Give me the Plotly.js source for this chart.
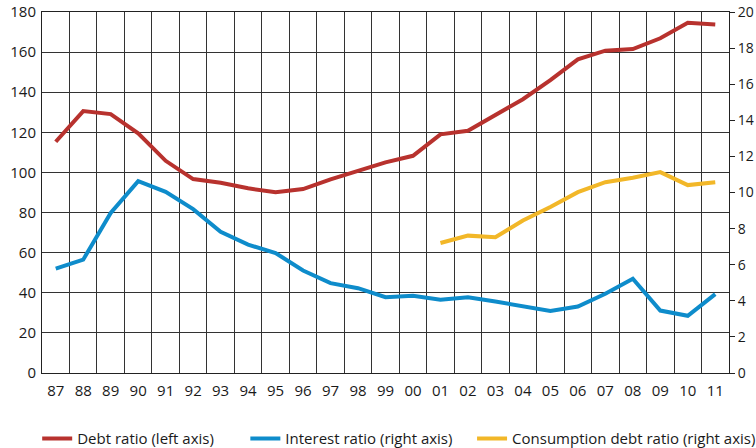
<!DOCTYPE html>
<html>
<head>
<meta charset="utf-8">
<script src="https://cdn.plot.ly/plotly-3.0.1.min.js"></script>
<style>html,body{margin:0;padding:0;background:#fff;overflow:hidden;}#chart{width:756px;height:448px;}</style>
</head>
<body>
<div id="chart"></div>
<script>
const years = ["87","88","89","90","91","92","93","94","95","96","97","98","99","00","01","02","03","04","05","06","07","08","09","10","11"];
const debtRatio = [115.3,130.6,129.1,119.5,105.8,96.7,94.9,92.1,90.1,91.7,96.5,100.8,105.0,108.3,119.0,120.8,128.6,136.5,146.0,156.4,160.7,161.5,166.9,174.6,173.8];
const interestRatio = [5.78,6.28,8.87,10.63,10.04,9.08,7.82,7.11,6.65,5.68,4.98,4.70,4.20,4.28,4.06,4.20,3.96,3.68,3.44,3.68,4.39,5.22,3.46,3.17,4.37];
const consumptionYears = ["01","02","03","04","05","06","07","08","09","10","11"];
const consumptionRatio = [7.2,7.61,7.52,8.45,9.2,10.02,10.57,10.82,11.13,10.41,10.57];
const leftTicks = [0,20,40,60,80,100,120,140,160,180];
const rightTicks = [0,2,4,6,8,10,12,14,16,18,20];

const FONT = '"Open Sans", "Noto Sans", sans-serif';
const TXT = '#1a1a1a';

const traces = [
  {x: years, y: debtRatio, name: 'Debt ratio (left axis)', type: 'scatter', mode: 'lines',
   line: {color: '#B8322E', width: 4}, yaxis: 'y', legend: 'legend'},
  {x: years, y: interestRatio, name: 'Interest ratio (right axis)', type: 'scatter', mode: 'lines',
   line: {color: '#0E8CCB', width: 4}, yaxis: 'y2', legend: 'legend2'},
  {x: consumptionYears, y: consumptionRatio, name: 'Consumption debt ratio (right axis)', type: 'scatter', mode: 'lines',
   line: {color: '#F2B728', width: 4}, yaxis: 'y2', legend: 'legend3'}
];

const legBase = {orientation: 'h', yanchor: 'middle', y: -0.182, xanchor: 'left',
  font: {family: FONT, size: 15, color: TXT}, bgcolor: 'rgba(0,0,0,0)', itemwidth: 30, tracegroupgap: 0};

const layout = {
  width: 756, height: 448,
  margin: {l: 42, r: 27, t: 12, b: 75, pad: 0, autoexpand: false},
  paper_bgcolor: '#fff', plot_bgcolor: '#fff',
  font: {family: FONT, size: 15, color: TXT},
  showlegend: true,
  legend: Object.assign({}, legBase, {x: -0.007}),
  legend2: Object.assign({}, legBase, {x: 0.296}),
  legend3: Object.assign({}, legBase, {x: 0.626}),
  xaxis: {
    type: 'category', categoryorder: 'array', categoryarray: years,
    range: [-0.5, 24.5], tickson: 'boundaries', ticks: '',
    showgrid: true, gridcolor: '#333', gridwidth: 1,
    showline: true, linecolor: '#222', linewidth: 1, mirror: true,
    tickfont: {family: FONT, size: 15, color: TXT}, ticklabelstandoff: 4,
    zeroline: false, fixedrange: true, automargin: false
  },
  yaxis: {
    range: [0, 180], tickmode: 'array', tickvals: leftTicks, ticktext: leftTicks.map(String),
    showgrid: true, gridcolor: '#333', gridwidth: 1, ticks: '',
    showline: true, linecolor: '#222', linewidth: 1, mirror: true,
    tickfont: {family: FONT, size: 15, color: TXT}, ticklabelstandoff: 2,
    zeroline: false, fixedrange: true, automargin: false
  },
  yaxis2: {
    overlaying: 'y', side: 'right', range: [0, 20], tickmode: 'array', tickvals: rightTicks, ticktext: rightTicks.map(String),
    showgrid: false, ticks: 'outside', ticklen: 5, tickcolor: '#222', tickwidth: 1,
    showline: false, zeroline: false,
    tickfont: {family: FONT, size: 14, color: TXT}, ticklabelstandoff: 0, fixedrange: true, automargin: false
  }
};

Plotly.newPlot('chart', traces, layout, {displayModeBar: false, staticPlot: true});
</script>
</body>
</html>
